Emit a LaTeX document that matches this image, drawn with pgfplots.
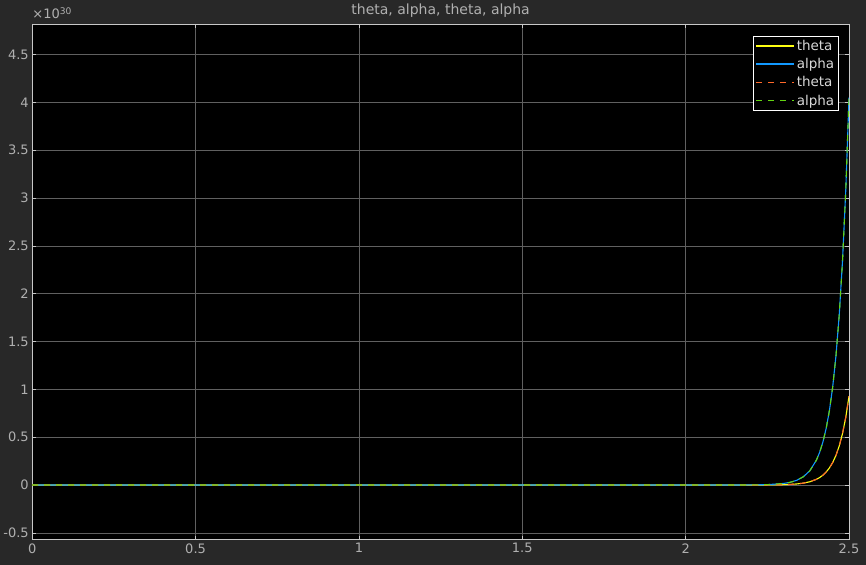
\documentclass[border=0pt]{standalone}
\usepackage{fontspec}
\setmainfont{DejaVu Sans}
\usepackage{pgfplots}
\pgfplotsset{compat=1.18}
\definecolor{figbg}{HTML}{282828}
\definecolor{txt}{HTML}{B0B0B0}
\definecolor{legtxt}{HTML}{D8D8D8}
\definecolor{gridc}{HTML}{606060}
\definecolor{boxc}{HTML}{C8C8C8}
\definecolor{scopeyellow}{HTML}{FFFF12}
\definecolor{scopeblue}{HTML}{1299FF}
\definecolor{scopeorange}{HTML}{FF6929}
\definecolor{scopegreen}{HTML}{63D412}

% values in units of 1e30
\pgfplotstableread{
x     theta   alpha
0     0       0
0.5   0       0
1.0   0       0
1.5   0       0
2.0   0       0
2.2   0.0002  0.0011
2.25  0.0010  0.0042
2.30  0.0038  0.0166
2.32  0.0066  0.0287
2.34  0.0114  0.0497
2.36  0.0198  0.0862
2.38  0.0343  0.149
2.40  0.0594  0.259
2.41  0.0783  0.341
2.42  0.103   0.449
2.43  0.136   0.591
2.44  0.179   0.778
2.45  0.235   1.024
2.46  0.310   1.348
2.47  0.408   1.775
2.48  0.537   2.337
2.49  0.706   3.076
2.50  0.930   4.050
}\scopedata

\begin{document}
\begin{tikzpicture}
\fill[figbg] (0,0) rectangle (866pt,565pt);
\begin{axis}[
    at={(32pt,25pt)}, anchor=south west,
    scale only axis, width=817pt, height=516pt,
    xmin=0, xmax=2.5, ymin=-0.573, ymax=4.82,
    xtick={0,0.5,...,2.5}, ytick={-0.5,0,...,4.5},
    axis background/.style={fill=black},
    axis line style={boxc, line width=0.8pt},
    grid=major, major grid style={gridc, line width=0.6pt},
    tick style={boxc, line width=0.6pt}, tick align=inside,
    major tick length=4pt,
    ticklabel style={txt, font=\fontsize{13}{15}\selectfont},
    /pgf/number format/assume math mode=true,
    scaled y ticks=false,
    title={theta, alpha, theta, alpha},
    title style={txt, font=\fontsize{14}{16}\selectfont, yshift=-3pt},
    legend style={at={(0.987,0.977)}, anchor=north east, fill=black, draw=white,
        font=\fontsize{13.5}{16}\selectfont,
        inner xsep=2pt, inner ysep=2pt, row sep=2.5pt},
    legend cell align=left,
    legend image code/.code={\draw[#1, line width=1.4pt] (0pt,0pt) -- (38pt,0pt);},
  ]
  \addplot[draw=scopeyellow, line width=1.1pt] table[x=x, y=theta] {\scopedata};
  \addplot[draw=scopeblue, line width=1.1pt] table[x=x, y=alpha] {\scopedata};
  \addplot[draw=scopeorange, line width=1.1pt, dash pattern=on 6pt off 6pt] table[x=x, y=theta] {\scopedata};
  \addplot[draw=scopegreen, line width=1.1pt, dash pattern=on 6pt off 6pt] table[x=x, y=alpha] {\scopedata};
  \legend{\textcolor{legtxt}{theta}, \textcolor{legtxt}{alpha},
          \textcolor{legtxt}{theta}, \textcolor{legtxt}{alpha}}
\end{axis}
\node[anchor=base west, txt, inner sep=0pt, font=\fontsize{13}{15}\selectfont] at (32pt,546pt) {×10\textsuperscript{30}};
\end{tikzpicture}
\end{document}
